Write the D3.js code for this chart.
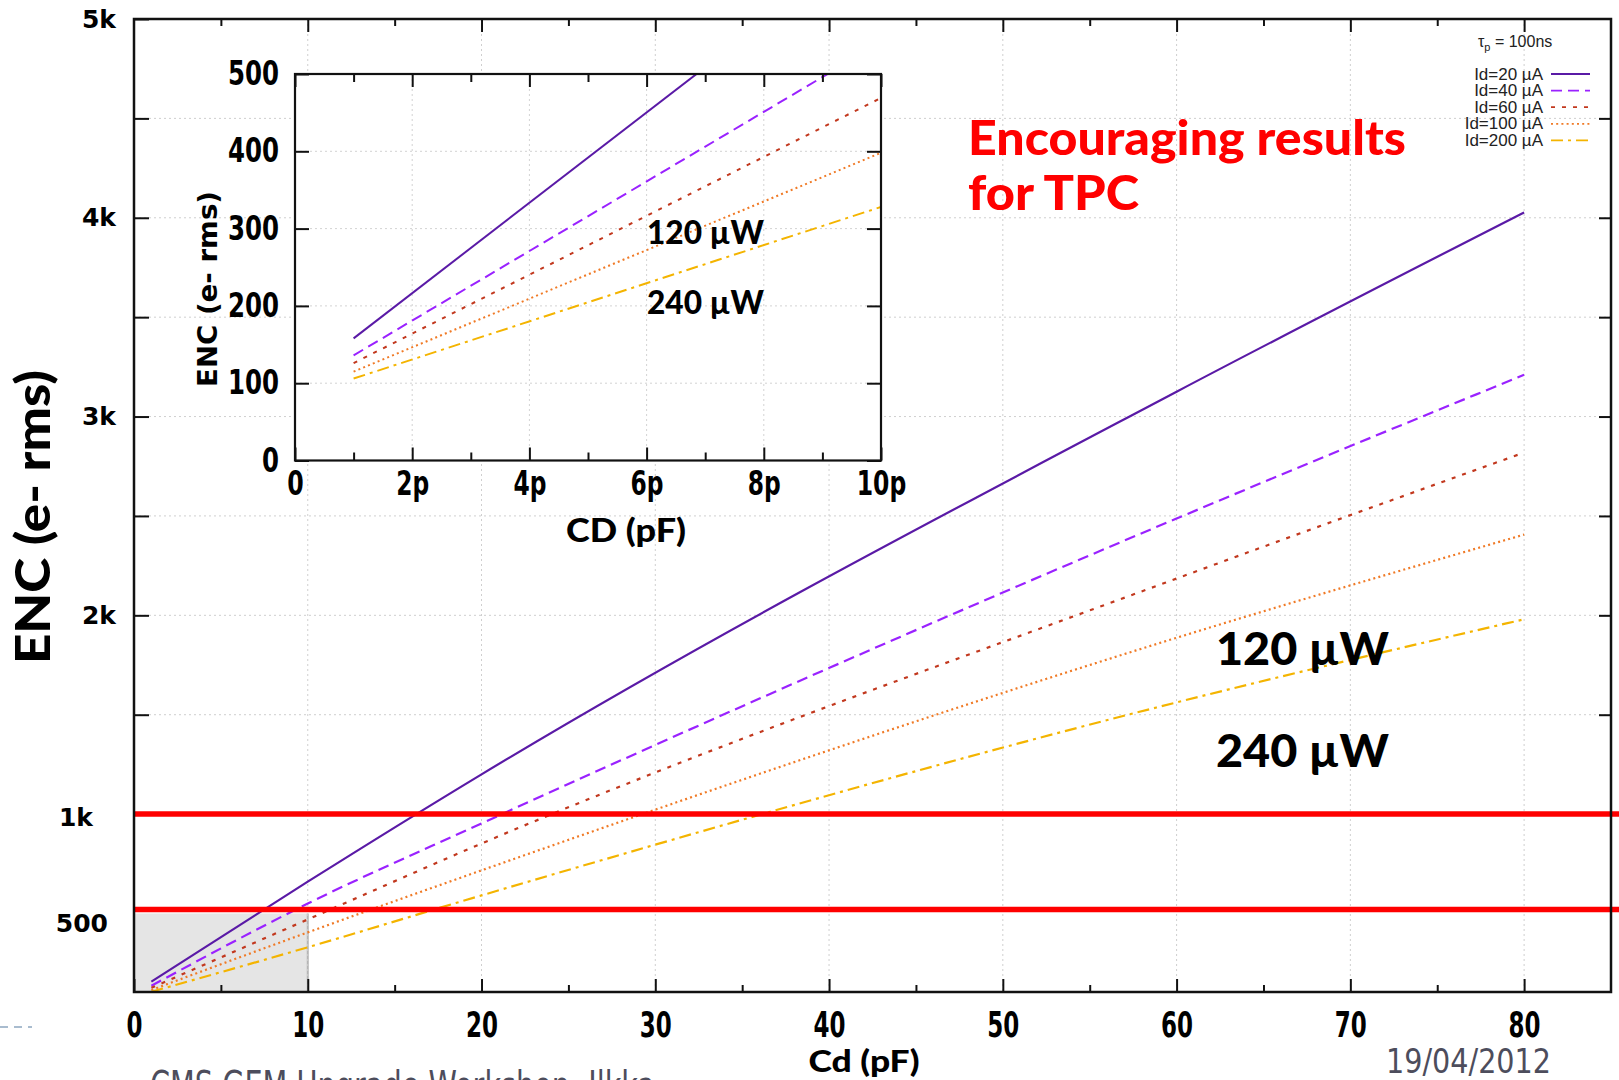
<!DOCTYPE html>
<html><head><meta charset="utf-8">
<script src="https://cdn.jsdelivr.net/npm/d3@7"></script>
<style>body{margin:0;background:#fff;} svg{display:block}</style>
</head><body><svg id="c" width="1619" height="1080"></svg>
<script>
// ---------- data ----------
const seriesNames = ["Id=20 µA", "Id=40 µA", "Id=60 µA", "Id=100 µA", "Id=200 µA"];
const cdMain = [1, 10, 20, 60, 80];
const encMainId20  = [157, 660, 1200, 3125, 4027];
const encMainId40  = [136, 550, 953, 2487, 3210];
const encMainId60  = [126, 470, 852, 2185, 2819];
const encMainId100 = [115, 405, 717, 1887, 2406];
const encMainId200 = [106, 330, 591, 1562, 1980];
const cdInset = [1, 10];
const encInsetId20  = [158, 684];
const encInsetId40  = [136, 541];
const encInsetId60  = [126, 469];
const encInsetId100 = [115, 398];
const encInsetId200 = [106, 328];
const xTicksMain = [0, 10, 20, 30, 40, 50, 60, 70, 80];
const yTicksMain = [2000, 3000, 4000, 5000];
const yTickLabelsMain = ["2k", "3k", "4k", "5k"];
const limitValues = [1000, 520];
const limitLabels = ["1k", "500"];
const shadedBox = {cd: [0, 10], enc: [105, 500]};
const insetXTicks = [0, 2, 4, 6, 8, 10];
const insetXTickLabels = ["0", "2p", "4p", "6p", "8p", "10p"];
const insetYTicks = [0, 100, 200, 300, 400, 500];
const powerLabels = ["120 µW", "240 µW"];

// ---------- styles ----------
const colors = ["#5a1aa6", "#9a22ff", "#c2381e", "#f07a26", "#f4b400"];
const dashes = [null, "11,6", "4,7", "2,3.2", "12,5,3,5"];
const narrow = "'Liberation Sans Narrow','DejaVu Sans Condensed',sans-serif";
const wide = "'DejaVu Sans',Verdana,sans-serif";
const humanist = "Lato,'Open Sans',sans-serif";

const mainSeries = [encMainId20, encMainId40, encMainId60, encMainId100, encMainId200];
const insetSeries = [encInsetId20, encInsetId40, encInsetId60, encInsetId100, encInsetId200];

const svg = d3.select("#c");
svg.append("rect").attr("width", 1619).attr("height", 1080).attr("fill", "#fff");

function squeeze(sel, perChar) {
  sel.each(function () {
    const t = d3.select(this);
    const n = t.text().length;
    if (n) t.attr("textLength", n * perChar).attr("lengthAdjust", "spacingAndGlyphs");
  });
}

// ---------- main chart ----------
const M = {l: 134, r: 1611, t: 19, b: 992};
const x = d3.scaleLinear([0, 85], [M.l, M.r]);
const y = d3.scaleLinear([105, 5000], [M.b, M.t]);

// shaded box
svg.append("rect")
  .attr("x", x(shadedBox.cd[0])).attr("y", y(shadedBox.enc[1]))
  .attr("width", x(shadedBox.cd[1]) - x(shadedBox.cd[0]))
  .attr("height", y(shadedBox.enc[0]) - y(shadedBox.enc[1]))
  .attr("fill", "#e5e5e5");
svg.append("line")
  .attr("x1", x(shadedBox.cd[1])).attr("x2", x(shadedBox.cd[1]))
  .attr("y1", y(shadedBox.enc[1])).attr("y2", y(shadedBox.enc[0]))
  .attr("stroke", "#b5b5b5").attr("stroke-width", 2);

// grid
const gridG = svg.append("g").attr("stroke", "#cfcfcf").attr("stroke-width", 1).attr("stroke-dasharray", "2,3");
d3.range(10, 81, 10).forEach(v => gridG.append("line").attr("x1", x(v)).attr("x2", x(v)).attr("y1", M.t).attr("y2", M.b));
d3.range(1000, 4501, 500).forEach(v => gridG.append("line").attr("x1", M.l).attr("x2", M.r).attr("y1", y(v)).attr("y2", y(v)));

// series lines
const lineMain = d3.line().curve(d3.curveMonotoneX).x(d => x(d[0])).y(d => y(d[1]));
mainSeries.forEach((s, i) => {
  svg.append("path").datum(cdMain.map((c, j) => [c, s[j]]))
    .attr("d", lineMain).attr("fill", "none")
    .attr("stroke", colors[i]).attr("stroke-width", 2.2)
    .attr("stroke-dasharray", dashes[i]);
});

// limit lines
limitValues.forEach(v => {
  svg.append("line").attr("x1", M.l).attr("x2", 1619).attr("y1", y(v)).attr("y2", y(v))
    .attr("stroke", "#ff0000").attr("stroke-width", 5.5);
});

// axes (ticks inward)
function styleAxis(g) { g.select(".domain").remove(); g.selectAll("line").attr("stroke", "#111").attr("stroke-width", 2); }
svg.append("g").attr("transform", `translate(0,${M.b})`)
  .call(d3.axisBottom(x).tickValues(d3.range(5, 81, 10)).tickSize(-7).tickFormat("")).call(styleAxis);
const xAx = svg.append("g").attr("transform", `translate(0,${M.b})`)
  .call(d3.axisBottom(x).tickValues(xTicksMain).tickSize(-13).tickPadding(20)).call(styleAxis);
xAx.selectAll("text").attr("font-family", narrow).attr("font-weight", "bold").attr("font-size", 35).attr("fill", "#000").call(squeeze, 16);
svg.append("g").attr("transform", `translate(0,${M.t})`)
  .call(d3.axisTop(x).tickValues(d3.range(5, 81, 10)).tickSize(-7).tickFormat("")).call(styleAxis);
svg.append("g").attr("transform", `translate(0,${M.t})`)
  .call(d3.axisTop(x).tickValues(d3.range(10, 81, 10)).tickSize(-13).tickFormat("")).call(styleAxis);
const yAx = svg.append("g").attr("transform", `translate(${M.l},0)`)
  .call(d3.axisLeft(y).tickValues(d3.range(1500, 5001, 500)).tickSize(-15).tickPadding(18)
    .tickFormat(v => { const k = yTicksMain.indexOf(v); return k >= 0 ? yTickLabelsMain[k] : ""; }))
  .call(styleAxis);
yAx.selectAll("text").attr("font-family", wide).attr("font-weight", "bold").attr("font-size", 25).attr("fill", "#000");
svg.append("g").attr("transform", `translate(${M.r},0)`)
  .call(d3.axisRight(y).tickValues(d3.range(1500, 5000, 500)).tickSize(-12).tickFormat("")).call(styleAxis);
// frame
svg.append("rect").attr("x", M.l).attr("y", M.t).attr("width", M.r - M.l).attr("height", M.b - M.t)
  .attr("fill", "none").attr("stroke", "#111").attr("stroke-width", 2.5);

// limit labels
limitLabels.forEach((t, i) => {
  svg.append("text").attr("x", i === 0 ? 93 : 108).attr("y", y(limitValues[i]) + (i === 0 ? 12 : 22))
    .attr("text-anchor", "end").attr("font-family", wide).attr("font-weight", "bold")
    .attr("font-size", 25).text(t);
});

// axis titles
svg.append("text").attr("transform", "translate(50,517) rotate(-90)").attr("text-anchor", "middle")
  .attr("font-family", humanist).attr("font-weight", 900).attr("font-size", 48)
  .attr("textLength", 294).attr("lengthAdjust", "spacingAndGlyphs").text("ENC (e- rms)");
svg.append("text").attr("x", 864).attr("y", 1072).attr("text-anchor", "middle")
  .attr("font-family", humanist).attr("font-weight", 900).attr("font-size", 30)
  .attr("textLength", 111).attr("lengthAdjust", "spacingAndGlyphs").text("Cd (pF)");

// power annotations (main)
[665, 767].forEach((by, i) => {
  svg.append("text").attr("x", 1216).attr("y", by)
    .attr("font-family", humanist).attr("font-weight", 900).attr("font-size", 46)
    .attr("textLength", 173).attr("lengthAdjust", "spacingAndGlyphs").text(powerLabels[i]);
});

// red message
svg.append("text").attr("x", 968).attr("y", 155).attr("fill", "#ff0000")
  .attr("font-family", humanist).attr("font-weight", 900).attr("font-size", 48)
  .attr("textLength", 438).attr("lengthAdjust", "spacingAndGlyphs").text("Encouraging results");
svg.append("text").attr("x", 968).attr("y", 210).attr("fill", "#ff0000")
  .attr("font-family", humanist).attr("font-weight", 900).attr("font-size", 48)
  .attr("textLength", 171).attr("lengthAdjust", "spacingAndGlyphs").text("for TPC");

// legend
const lg = svg.append("g").attr("font-family", "'Liberation Sans',Arial,sans-serif").attr("fill", "#222");
const tau = lg.append("text").attr("x", 1478).attr("y", 47).attr("font-size", 16);
tau.append("tspan").text("τ");
tau.append("tspan").attr("font-size", 11).attr("dy", 4).text("p");
tau.append("tspan").attr("dy", -4).text(" = 100ns");
seriesNames.forEach((n, i) => {
  const yy = 74 + i * 16.6;
  lg.append("text").attr("x", 1543).attr("y", yy + 5.5).attr("text-anchor", "end").attr("font-size", 17).text(n);
  lg.append("line").attr("x1", 1551).attr("x2", 1590).attr("y1", yy).attr("y2", yy)
    .attr("stroke", colors[i]).attr("stroke-width", 1.8).attr("stroke-dasharray", dashes[i]);
});

// ---------- inset ----------
const I = {l: 295, r: 881, t: 74, b: 460.5};
const xi = d3.scaleLinear([0, 10], [I.l, I.r]);
const yi = d3.scaleLinear([0, 500], [I.b, I.t]);
svg.append("rect").attr("x", I.l).attr("y", I.t).attr("width", I.r - I.l).attr("height", I.b - I.t).attr("fill", "#fff");
const gI = svg.append("g").attr("stroke", "#d3d3d3").attr("stroke-width", 1).attr("stroke-dasharray", "2,3");
[2, 4, 6, 8].forEach(v => gI.append("line").attr("x1", xi(v)).attr("x2", xi(v)).attr("y1", I.t).attr("y2", I.b));
[100, 200, 300, 400].forEach(v => gI.append("line").attr("x1", I.l).attr("x2", I.r).attr("y1", yi(v)).attr("y2", yi(v)));
svg.append("clipPath").attr("id", "ic").append("rect").attr("x", I.l).attr("y", I.t).attr("width", I.r - I.l).attr("height", I.b - I.t);
const lineInset = d3.line().x(d => xi(d[0])).y(d => yi(d[1]));
insetSeries.forEach((s, i) => {
  svg.append("path").datum(cdInset.map((c, j) => [c, s[j]]))
    .attr("clip-path", "url(#ic)")
    .attr("d", lineInset).attr("fill", "none")
    .attr("stroke", colors[i]).attr("stroke-width", 2)
    .attr("stroke-dasharray", dashes[i]);
});
svg.append("g").attr("transform", `translate(0,${I.b})`)
  .call(d3.axisBottom(xi).tickValues([1, 3, 5, 7, 9]).tickSize(-8).tickFormat("")).call(styleAxis);
const xiAx = svg.append("g").attr("transform", `translate(0,${I.b})`)
  .call(d3.axisBottom(xi).tickValues(insetXTicks).tickSize(-13).tickPadding(11)
    .tickFormat((v, k) => insetXTickLabels[k])).call(styleAxis);
xiAx.selectAll("text").attr("font-family", narrow).attr("font-weight", "bold").attr("font-size", 33).attr("fill", "#000").call(squeeze, 16.5);
svg.append("g").attr("transform", `translate(0,${I.t})`)
  .call(d3.axisTop(xi).tickValues([1, 3, 5, 7, 9]).tickSize(-8).tickFormat("")).call(styleAxis);
svg.append("g").attr("transform", `translate(0,${I.t})`)
  .call(d3.axisTop(xi).tickValues(insetXTicks).tickSize(-13).tickFormat("")).call(styleAxis);
const yiAx = svg.append("g").attr("transform", `translate(${I.l},0)`)
  .call(d3.axisLeft(yi).tickValues(insetYTicks).tickSize(-14).tickPadding(16)).call(styleAxis);
yiAx.selectAll("text").attr("font-family", narrow).attr("font-weight", "bold").attr("font-size", 33).attr("fill", "#000").call(squeeze, 17);
svg.append("g").attr("transform", `translate(${I.r},0)`)
  .call(d3.axisRight(yi).tickValues(insetYTicks).tickSize(-14).tickFormat("")).call(styleAxis);
svg.append("rect").attr("x", I.l).attr("y", I.t).attr("width", I.r - I.l).attr("height", I.b - I.t)
  .attr("fill", "none").attr("stroke", "#111").attr("stroke-width", 2.2);
svg.append("text").attr("x", 626).attr("y", 542).attr("text-anchor", "middle")
  .attr("font-family", humanist).attr("font-weight", 900).attr("font-size", 32)
  .attr("textLength", 120).attr("lengthAdjust", "spacingAndGlyphs").text("CD (pF)");
svg.append("text").attr("transform", "translate(217,289) rotate(-90)").attr("text-anchor", "middle")
  .attr("font-family", wide).attr("font-weight", "bold").attr("font-size", 26)
  .attr("textLength", 196).attr("lengthAdjust", "spacingAndGlyphs").text("ENC (e- rms)");
[244, 314].forEach((by, i) => {
  svg.append("text").attr("x", 647).attr("y", by)
    .attr("font-family", humanist).attr("font-weight", 900).attr("font-size", 32)
    .attr("textLength", 117).attr("lengthAdjust", "spacingAndGlyphs").text(powerLabels[i]);
});

// ---------- slide decorations ----------
svg.append("line").attr("x1", 0).attr("x2", 32).attr("y1", 1027).attr("y2", 1027)
  .attr("stroke", "#a9bccf").attr("stroke-width", 2).attr("stroke-dasharray", "8,6");
svg.append("text").attr("x", 1386).attr("y", 1073).attr("fill", "#4d4d5c")
  .attr("font-family", narrow).attr("font-size", 34)
  .attr("textLength", 165).attr("lengthAdjust", "spacingAndGlyphs").text("19/04/2012");
svg.append("text").attr("x", 150).attr("y", 1100).attr("fill", "#4d4d5c")
  .attr("font-family", narrow).attr("font-size", 40)
  .attr("textLength", 505).attr("lengthAdjust", "spacingAndGlyphs").text("CMS GEM Upgrade Workshop, Ilkka");
</script></body></html>
